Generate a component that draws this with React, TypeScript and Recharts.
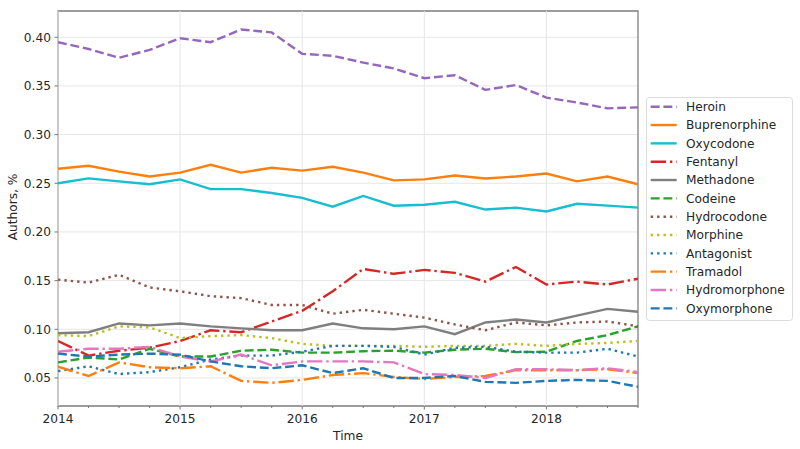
import React from 'react';
import {
  LineChart,
  Line,
  XAxis,
  YAxis,
  CartesianGrid,
  ReferenceLine,
  ReferenceArea,
  Legend,
} from 'recharts';

const times = [
  2014, 2014.25, 2014.5, 2014.75, 2015, 2015.25, 2015.5, 2015.75, 2016, 2016.25,
  2016.5, 2016.75, 2017, 2017.25, 2017.5, 2017.75, 2018, 2018.25, 2018.5, 2018.75,
];

const heroin = [0.395, 0.388, 0.379, 0.387, 0.399, 0.395, 0.408, 0.405, 0.383, 0.381, 0.374, 0.368, 0.358, 0.361, 0.346, 0.351, 0.338, 0.333, 0.327, 0.328];
const buprenorphine = [0.265, 0.268, 0.262, 0.257, 0.261, 0.269, 0.261, 0.266, 0.263, 0.267, 0.261, 0.253, 0.254, 0.258, 0.255, 0.257, 0.26, 0.252, 0.257, 0.249];
const oxycodone = [0.25, 0.255, 0.252, 0.249, 0.254, 0.244, 0.244, 0.24, 0.235, 0.226, 0.237, 0.227, 0.228, 0.231, 0.223, 0.225, 0.221, 0.229, 0.227, 0.225];
const fentanyl = [0.088, 0.073, 0.078, 0.081, 0.088, 0.099, 0.097, 0.108, 0.119, 0.139, 0.162, 0.157, 0.161, 0.158, 0.149, 0.164, 0.146, 0.149, 0.146, 0.152];
const methadone = [0.096, 0.097, 0.106, 0.104, 0.106, 0.103, 0.101, 0.099, 0.099, 0.106, 0.101, 0.1, 0.103, 0.095, 0.107, 0.11, 0.107, 0.114, 0.121, 0.118];
const codeine = [0.066, 0.071, 0.069, 0.08, 0.072, 0.072, 0.078, 0.079, 0.076, 0.076, 0.0775, 0.078, 0.076, 0.079, 0.08, 0.0765, 0.077, 0.088, 0.094, 0.103];
const hydrocodone = [0.151, 0.148, 0.156, 0.143, 0.139, 0.134, 0.132, 0.125, 0.125, 0.116, 0.12, 0.116, 0.112, 0.105, 0.099, 0.107, 0.104, 0.107, 0.108, 0.103];
const morphine = [0.094, 0.093, 0.103, 0.102, 0.091, 0.093, 0.094, 0.091, 0.085, 0.083, 0.083, 0.083, 0.082, 0.083, 0.083, 0.085, 0.083, 0.085, 0.086, 0.088];
const antagonist = [0.057, 0.062, 0.054, 0.056, 0.061, 0.069, 0.073, 0.073, 0.077, 0.083, 0.083, 0.082, 0.074, 0.081, 0.082, 0.077, 0.076, 0.076, 0.08, 0.072];
const tramadol = [0.0615, 0.052, 0.066, 0.061, 0.06, 0.062, 0.047, 0.045, 0.048, 0.053, 0.055, 0.051, 0.049, 0.051, 0.052, 0.058, 0.058, 0.058, 0.059, 0.055];
const hydromorphone = [0.077, 0.08, 0.08, 0.082, 0.072, 0.067, 0.074, 0.063, 0.067, 0.067, 0.067, 0.066, 0.054, 0.053, 0.05, 0.059, 0.059, 0.058, 0.06, 0.056];
const oxymorphone = [0.075, 0.072, 0.074, 0.075, 0.074, 0.067, 0.062, 0.06, 0.063, 0.055, 0.06, 0.05, 0.05, 0.052, 0.046, 0.045, 0.047, 0.048, 0.047, 0.041];

const yearTicks = [2014, 2015, 2016, 2017, 2018];
const quarterTicks = times;
const yTicks = [0.05, 0.1, 0.15, 0.2, 0.25, 0.3, 0.35, 0.4];
const xDomain = [2014, 2018.75];
const yDomain = [0.0212, 0.427];

const LW = 2.4;
const DASHED = '8.9 3.8';
const DASHDOT = '15.4 3.8 2.4 3.8';
const DOTTED = '2.4 4';

const series = [
  { key: 'Heroin', values: heroin, color: '#9467bd', dash: DASHED },
  { key: 'Buprenorphine', values: buprenorphine, color: '#ff7f0e', dash: undefined },
  { key: 'Oxycodone', values: oxycodone, color: '#17becf', dash: undefined },
  { key: 'Fentanyl', values: fentanyl, color: '#d62728', dash: DASHDOT },
  { key: 'Methadone', values: methadone, color: '#7f7f7f', dash: undefined },
  { key: 'Codeine', values: codeine, color: '#2ca02c', dash: DASHED },
  { key: 'Hydrocodone', values: hydrocodone, color: '#8c564b', dash: DOTTED },
  { key: 'Morphine', values: morphine, color: '#bcbd22', dash: DOTTED },
  { key: 'Antagonist', values: antagonist, color: '#1f77b4', dash: DOTTED },
  { key: 'Tramadol', values: tramadol, color: '#ff7f0e', dash: DASHDOT },
  { key: 'Hydromorphone', values: hydromorphone, color: '#e377c2', dash: DASHDOT },
  { key: 'Oxymorphone', values: oxymorphone, color: '#1f77b4', dash: DASHED },
];

const data = times.map((t, i) => {
  const row: Record<string, number> = { t };
  series.forEach((s) => {
    row[s.key] = s.values[i];
  });
  return row;
});

const FONT = 'DejaVu Sans';
const TEXT = '#262626';
const FS = 12.2;

const XTick = (props: any) => {
  const { x, y, payload } = props;
  const major = yearTicks.includes(payload.value);
  return (
    <g>
      <line x1={x} x2={x} y1={y} y2={y + (major ? 3.5 : 2)} stroke="#777" strokeWidth={1} />
      {major && (
        <text x={x} y={y + 16.6} textAnchor="middle" fill={TEXT} fontSize={FS} fontFamily={FONT}>
          {payload.value}
        </text>
      )}
    </g>
  );
};

const YTick = (props: any) => {
  const { x, y, payload } = props;
  return (
    <g>
      <line x1={x + 2.5} x2={x + 6} y1={y} y2={y} stroke="#777" strokeWidth={1} />
      <text x={x - 1} y={y + 4.4} textAnchor="end" fill={TEXT} fontSize={FS} fontFamily={FONT}>
        {Number(payload.value).toFixed(2)}
      </text>
    </g>
  );
};

const LegendBox = () => {
  const rowH = 18.33;
  return (
    <svg width={147} height={224} style={{ display: 'block', overflow: 'visible' }}>
      <rect x={0.5} y={0.5} width={146} height={223} rx={3} ry={3} fill="#ffffff" fillOpacity={0.8} stroke="#dcdcdc" strokeWidth={1} />
      {series.map((s, i) => {
        const cy = 9.7 + i * rowH;
        return (
          <g key={s.key}>
            <line x1={4.7} x2={30.7} y1={cy} y2={cy} stroke={s.color} strokeWidth={LW} strokeDasharray={s.dash} />
            <text x={40} y={cy + 4.4} fill={TEXT} fontSize={FS} fontFamily={FONT}>
              {s.key}
            </text>
          </g>
        );
      })}
    </svg>
  );
};

export default function App() {
  return (
    <div style={{ position: 'absolute', left: 0, top: 0, width: 800, height: 449, background: '#fff' }}>
      <LineChart
        width={800}
        height={449}
        data={data}
        margin={{ top: 11, right: 162, bottom: 0, left: 0 }}
      >
        <CartesianGrid vertical={false} stroke="#e6e6e6" strokeWidth={1} />
        {yearTicks.map((yr) => (
          <ReferenceLine key={yr} x={yr} stroke="#e6e6e6" strokeWidth={1} ifOverflow="extendDomain" />
        ))}
        <XAxis
          dataKey="t"
          type="number"
          domain={xDomain}
          ticks={quarterTicks}
          interval={0}
          allowDataOverflow
          height={43}
          axisLine={false}
          tickLine={false}
          tickSize={0}
          tickMargin={0}
          tick={<XTick />}
          label={{
            content: () => (
              <text x={348} y={439.5} textAnchor="middle" fill={TEXT} fontSize={FS} fontFamily={FONT}>
                Time
              </text>
            ),
          }}
        />
        <YAxis
          type="number"
          domain={yDomain}
          ticks={yTicks}
          interval={0}
          allowDataOverflow
          width={58}
          axisLine={false}
          tickLine={false}
          tickSize={0}
          tickMargin={6}
          tick={<YTick />}
          label={{
            content: () => (
              <text
                x={-207}
                y={16.5}
                transform="rotate(-90)"
                textAnchor="middle"
                fill={TEXT}
                fontSize={FS}
                fontFamily={FONT}
              >
                Authors, %
              </text>
            ),
          }}
        />
        {series.map((s) => (
          <Line
            key={s.key}
            dataKey={s.key}
            type="linear"
            stroke={s.color}
            strokeWidth={LW}
            strokeDasharray={s.dash}
            dot={false}
            activeDot={false}
            isAnimationActive={false}
          />
        ))}
        <ReferenceArea
          x1={xDomain[0]}
          x2={xDomain[1]}
          y1={yDomain[0]}
          y2={yDomain[1]}
          fill="none"
          stroke="#808080"
          strokeWidth={1.3}
          ifOverflow="visible"
        />
        <Legend
          layout="vertical"
          align="center"
          verticalAlign="middle"
          content={<LegendBox />}
          wrapperStyle={{ left: 646, top: 97, width: 147, height: 224 }}
        />
      </LineChart>
    </div>
  );
}
